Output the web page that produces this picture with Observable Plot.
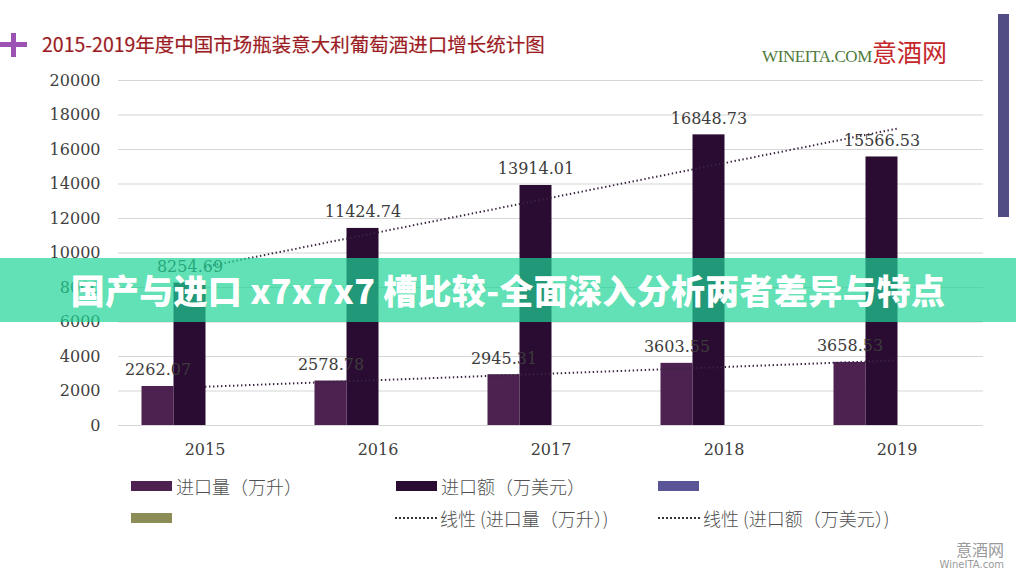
<!DOCTYPE html>
<html><head><meta charset="utf-8">
<script src="https://cdn.jsdelivr.net/npm/d3@7"></script>
<script src="https://cdn.jsdelivr.net/npm/@observablehq/plot@0.6"></script>
<style>
body{margin:0;background:#fff;}
#wrap{position:relative;width:1016px;height:582px;overflow:hidden;background:#fff;font-family:"Noto Sans CJK SC","Noto Sans",sans-serif;}
#chart{position:absolute;left:0;top:60px;}
.crossh{position:absolute;left:0;top:42px;width:27px;height:5px;background:#9b52b3;}
.crossv{position:absolute;left:11px;top:33px;width:5px;height:24px;background:#9b52b3;}
#title{position:absolute;left:42px;top:30px;font-size:19.5px;line-height:28px;color:#9c1c24;white-space:nowrap;text-shadow:0 0 1px rgba(150,30,40,0.35);}
#logo{position:absolute;left:762px;top:33px;white-space:nowrap;}
#logo .en{font-family:"Liberation Serif",serif;font-size:17px;color:#4f7a3a;letter-spacing:-0.4px;}
#logo .cn{font-size:25px;color:#c4282c;}
#sidebar{position:absolute;left:998px;top:14px;width:11px;height:203px;background:#524c85;}
#legend{position:absolute;left:0;top:469px;width:1016px;height:60px;font-size:18px;color:#505050;font-weight:300;}
.li{position:absolute;display:flex;align-items:center;white-space:nowrap;height:24px;}
.sw{width:41px;height:10px;margin-right:4px;}
.dl{width:42px;height:0;border-top:2px dotted #333;margin-right:3px;}
#banner{position:absolute;left:0;top:258px;width:1016px;height:64px;background:rgba(30,212,150,0.7);color:#fff;font-size:34px;font-weight:900;line-height:64px;text-align:center;white-space:nowrap;letter-spacing:0.3px;}
#wm{position:absolute;left:930px;top:540px;width:74px;text-align:right;color:#9a9a9a;}
#wm .a{font-size:16px;line-height:18px;}
#wm .b{font-family:"DejaVu Sans",sans-serif;font-size:10px;line-height:14px;}
</style></head><body>
<div id="wrap">
 <div class="crossh"></div><div class="crossv"></div>
 <div id="title">2015-2019年度中国市场瓶装意大利葡萄酒进口增长统计图</div>
 <div id="logo"><span class="en">WINEITA.COM</span><span class="cn">意酒网</span></div>
 <div id="sidebar"></div>
 <div id="chart"></div>
 <div id="legend"></div>
 <div id="banner">国产与进口 x7x7x7 槽比较-全面深入分析两者差异与特点</div>
 <div id="wm"><div class="a">意酒网</div><div class="b">WineITA.com</div></div>
</div>
<script>
const years = ["2015", "2016", "2017", "2018", "2019"];
const volume = [2262.07, 2578.78, 2945.31, 3603.55, 3658.53];
const value = [8254.69, 11424.74, 13914.01, 16848.73, 15566.53];
const yTicks = [0, 2000, 4000, 6000, 8000, 10000, 12000, 14000, 16000, 18000, 20000];
const seriesNames = ["进口量（万升）", "进口额（万美元）", "", ""];
const trendNames = ["线性 (进口量（万升）)", "线性 (进口额（万美元）)"];
const colors = ["#4d2150", "#2a0b31", "#5a5597", "#8b8c56"];

function linfit(vals) {
  const xs = vals.map((_, i) => i + 1);
  const mx = d3.mean(xs), my = d3.mean(vals);
  const b = d3.sum(xs.map((x, i) => (x - mx) * (vals[i] - my))) / d3.sum(xs.map(x => (x - mx) ** 2));
  const a = my - b * mx;
  return xs.map(x => a + b * x);
}
const volData = years.map((y, i) => ({year: y, v: volume[i]}));
const valData = years.map((y, i) => ({year: y, v: value[i]}));
const volTrend = linfit(volume).map((v, i) => ({year: years[i], v}));
const valTrend = linfit(value).map((v, i) => ({year: years[i], v}));

const fmt = d => d.toFixed(2);
const labelFont = {fontFamily: "DejaVu Serif", fontSize: 16, fill: "#3c3c3c"};
const trendStyle = {stroke: "#3a2440", strokeWidth: 2, strokeDasharray: "1.4 2.6", strokeLinecap: "butt"};

const chart = Plot.plot({
  width: 1016, height: 400,
  marginTop: 20, marginBottom: 35, marginLeft: 118, marginRight: 33,
  style: {fontFamily: "DejaVu Serif", fontSize: "16px", color: "#404040", background: "transparent"},
  x: {domain: years, padding: 0, label: null, tickSize: 0, tickPadding: 18},
  y: {domain: [0, 20000], ticks: yTicks, label: null, tickSize: 0, tickPadding: 18, tickFormat: d => String(d)},
  marks: [
    Plot.gridY(yTicks, {stroke: "#d6d6d6", strokeOpacity: 1, strokeWidth: 1.2}),
    Plot.barY(volData, {x: "year", y: "v", fill: colors[0], insetLeft: 23.5, insetRight: 117.5}),
    Plot.barY(valData, {x: "year", y: "v", fill: colors[1], insetLeft: 55.5, insetRight: 85.5}),
    Plot.line(volTrend, {x: "year", y: "v", ...trendStyle}),
    Plot.line(valTrend, {x: "year", y: "v", ...trendStyle}),
    Plot.text(volData, {x: "year", y: "v", text: d => fmt(d.v), dx: -47, dy: -11, lineAnchor: "bottom", ...labelFont}),
    Plot.text(valData, {x: "year", y: "v", text: d => fmt(d.v), dx: -15, dy: -11, lineAnchor: "bottom", ...labelFont})
  ]
});
document.getElementById("chart").appendChild(chart);

const legend = document.getElementById("legend");
const items = [
  {x: 131, y: 5, kind: "sw", color: colors[0], text: seriesNames[0]},
  {x: 396, y: 5, kind: "sw", color: colors[1], text: seriesNames[1]},
  {x: 658, y: 5, kind: "sw", color: colors[2], text: seriesNames[2]},
  {x: 131, y: 37, kind: "sw", color: colors[3], text: seriesNames[3]},
  {x: 395, y: 37, kind: "dl", text: trendNames[0]},
  {x: 658, y: 37, kind: "dl", text: trendNames[1]}
];
for (const it of items) {
  const el = document.createElement("div");
  el.className = "li";
  el.style.left = it.x + "px"; el.style.top = it.y + "px";
  const s = document.createElement("div");
  s.className = it.kind;
  if (it.kind === "sw") s.style.background = it.color;
  el.appendChild(s);
  const t = document.createElement("span");
  t.textContent = it.text;
  el.appendChild(t);
  legend.appendChild(el);
}
</script>
</body></html>
